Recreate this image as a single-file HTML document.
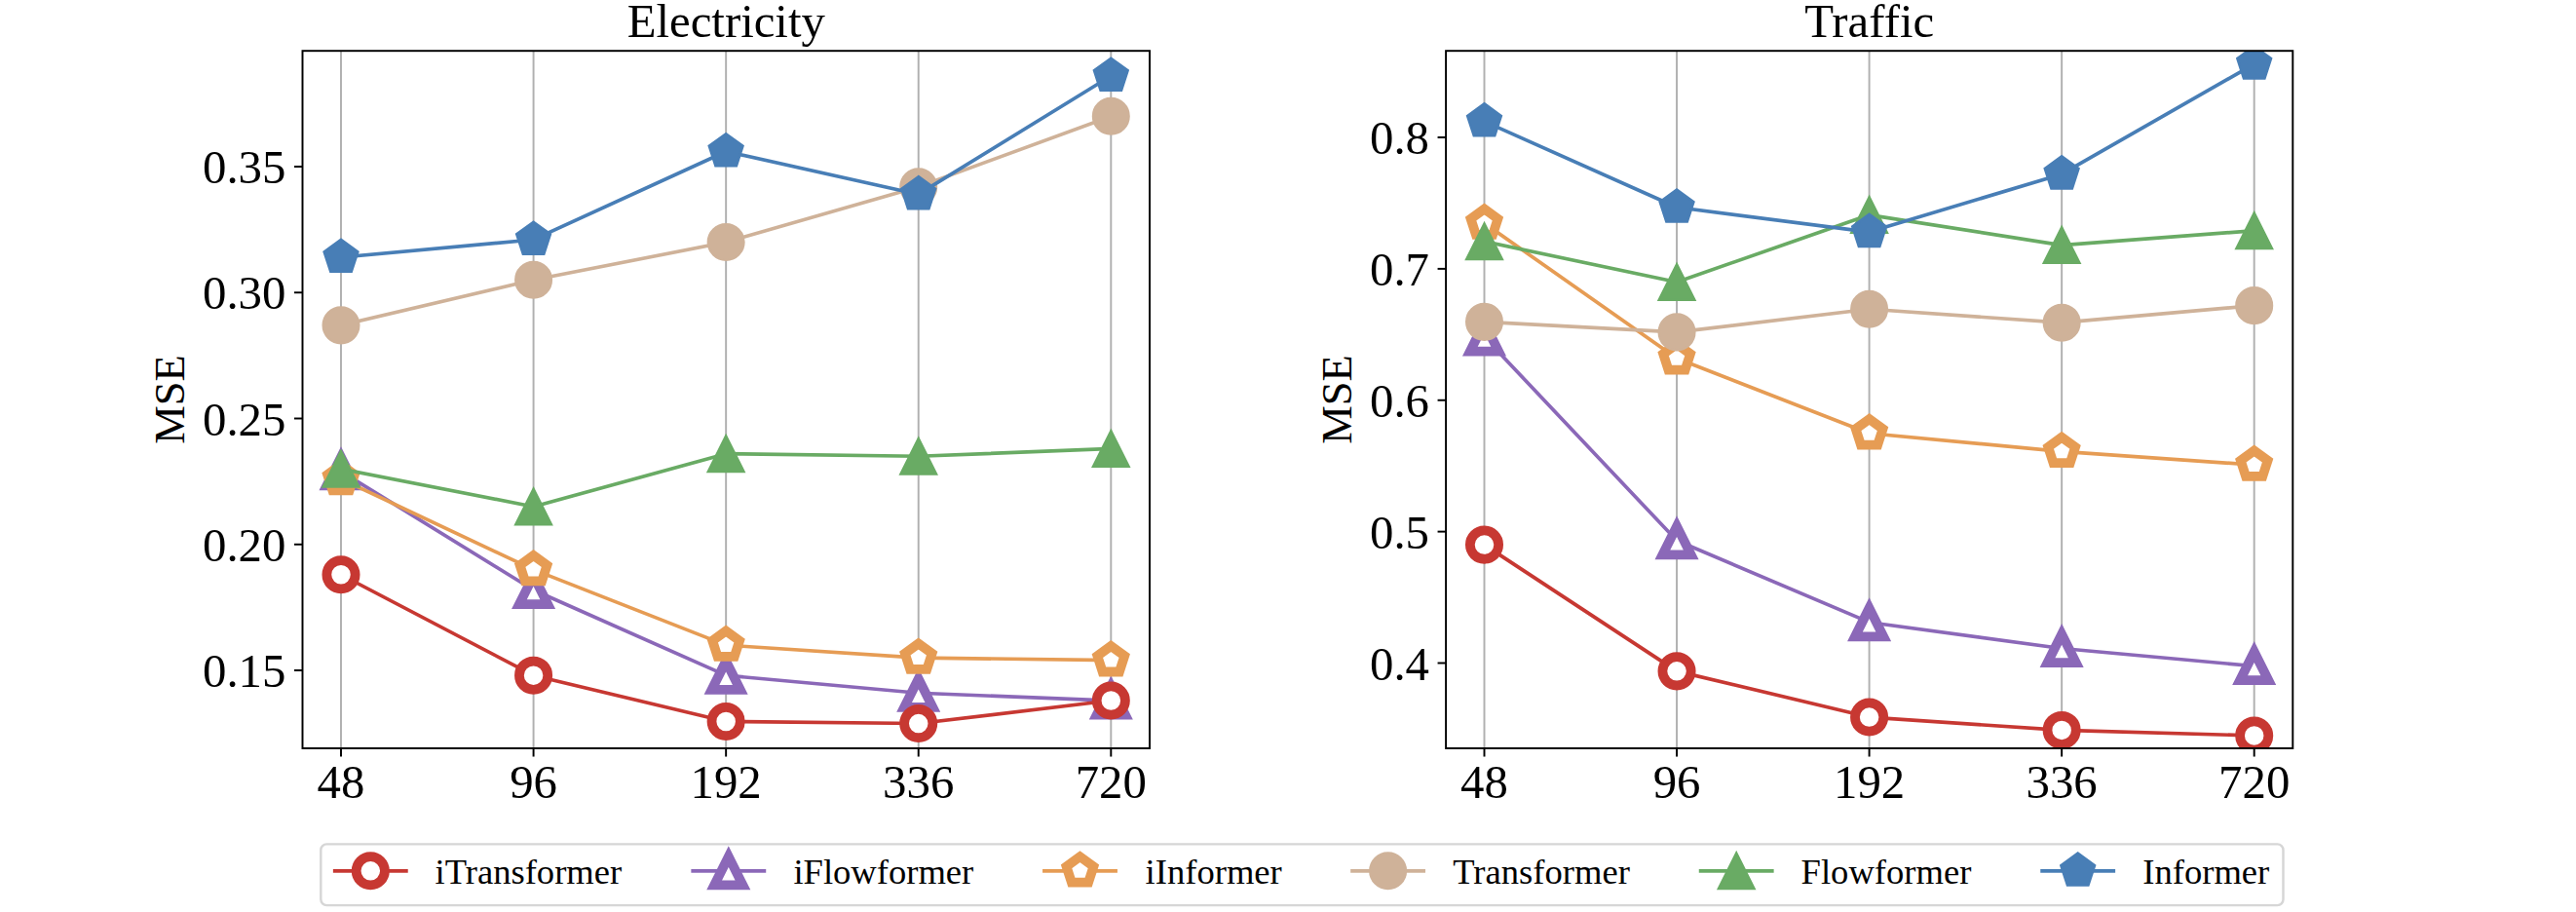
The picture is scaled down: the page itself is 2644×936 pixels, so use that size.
<!DOCTYPE html>
<html lang="en"><head><meta charset="utf-8"><title>MSE vs lookback length</title>
<style>
html,body{margin:0;padding:0;background:#fff;}
body{width:2644px;height:936px;overflow:hidden;}
svg{display:block;}
text{font-family:"Liberation Serif","Times New Roman",Times,serif;fill:#000;font-variant-ligatures:none;font-kerning:normal;}
.t20{font-size:48.8px;}
.t18{font-size:44.5px;}
.t15{font-size:36.6px;}
</style></head><body>
<svg width="2644" height="936" viewBox="0 0 2644 936">
<rect x="0" y="0" width="2644" height="936" fill="#fff"/>
<defs>
<clipPath id="clip0"><rect x="310.5" y="52.2" width="869.5" height="715.8"/></clipPath>
<clipPath id="clip1"><rect x="1484.1" y="52.2" width="869.2" height="715.8"/></clipPath>
</defs>
<g id="axes0">
<g stroke="#b0b0b0" stroke-width="1.95">
<line x1="350" y1="52.2" x2="350" y2="768"/>
<line x1="547.58" y1="52.2" x2="547.58" y2="768"/>
<line x1="745.15" y1="52.2" x2="745.15" y2="768"/>
<line x1="942.72" y1="52.2" x2="942.72" y2="768"/>
<line x1="1140.3" y1="52.2" x2="1140.3" y2="768"/>
</g>
<g stroke="#000" stroke-width="1.95">
<line x1="350" y1="768" x2="350" y2="776.54"/>
<line x1="547.58" y1="768" x2="547.58" y2="776.54"/>
<line x1="745.15" y1="768" x2="745.15" y2="776.54"/>
<line x1="942.72" y1="768" x2="942.72" y2="776.54"/>
<line x1="1140.3" y1="768" x2="1140.3" y2="776.54"/>
<line x1="301.96" y1="688" x2="310.5" y2="688"/>
<line x1="301.96" y1="558.75" x2="310.5" y2="558.75"/>
<line x1="301.96" y1="429.5" x2="310.5" y2="429.5"/>
<line x1="301.96" y1="300.25" x2="310.5" y2="300.25"/>
<line x1="301.96" y1="171" x2="310.5" y2="171"/>
</g>
<g clip-path="url(#clip0)">
<polyline points="350,483.78 547.58,605.54 745.15,693.17 942.72,711.26 1140.3,719.02" fill="none" stroke="#8b68b8" stroke-width="3.66" stroke-linejoin="round" stroke-linecap="square"/>
<polygon points="350,469.14 335.36,498.42 364.64,498.42" fill="#fff" stroke="#8b68b8" stroke-width="9.76" stroke-linejoin="miter" stroke-miterlimit="10"/>
<polygon points="547.58,590.9 532.94,620.18 562.22,620.18" fill="#fff" stroke="#8b68b8" stroke-width="9.76" stroke-linejoin="miter" stroke-miterlimit="10"/>
<polygon points="745.15,678.53 730.51,707.81 759.79,707.81" fill="#fff" stroke="#8b68b8" stroke-width="9.76" stroke-linejoin="miter" stroke-miterlimit="10"/>
<polygon points="942.72,696.62 928.08,725.9 957.36,725.9" fill="#fff" stroke="#8b68b8" stroke-width="9.76" stroke-linejoin="miter" stroke-miterlimit="10"/>
<polygon points="1140.3,704.38 1125.66,733.66 1154.94,733.66" fill="#fff" stroke="#8b68b8" stroke-width="9.76" stroke-linejoin="miter" stroke-miterlimit="10"/>
<polyline points="350,491.54 547.58,584.6 745.15,662.15 942.72,675.08 1140.3,677.66" fill="none" stroke="#e69c54" stroke-width="3.66" stroke-linejoin="round" stroke-linecap="square"/>
<polygon points="350,476.9 336.08,487.02 341.39,503.38 358.61,503.38 363.92,487.02" fill="#fff" stroke="#e69c54" stroke-width="9.76" stroke-linejoin="miter" stroke-miterlimit="10"/>
<polygon points="547.58,569.96 533.65,580.08 538.97,596.44 556.18,596.44 561.5,580.08" fill="#fff" stroke="#e69c54" stroke-width="9.76" stroke-linejoin="miter" stroke-miterlimit="10"/>
<polygon points="745.15,647.51 731.23,657.63 736.54,673.99 753.76,673.99 759.07,657.63" fill="#fff" stroke="#e69c54" stroke-width="9.76" stroke-linejoin="miter" stroke-miterlimit="10"/>
<polygon points="942.72,660.44 928.8,670.55 934.12,686.92 951.33,686.92 956.65,670.55" fill="#fff" stroke="#e69c54" stroke-width="9.76" stroke-linejoin="miter" stroke-miterlimit="10"/>
<polygon points="1140.3,663.02 1126.38,673.14 1131.69,689.5 1148.91,689.5 1154.22,673.14" fill="#fff" stroke="#e69c54" stroke-width="9.76" stroke-linejoin="miter" stroke-miterlimit="10"/>
<polyline points="350,333.86 547.58,287.32 745.15,248.55 942.72,191.68 1140.3,119.3" fill="none" stroke="#cfb299" stroke-width="3.66" stroke-linejoin="round" stroke-linecap="square"/>
<circle cx="350" cy="333.86" r="18.3" fill="#cfb299" stroke="#cfb299" stroke-width="2.44" stroke-linejoin="miter" stroke-miterlimit="10"/>
<circle cx="547.58" cy="287.32" r="18.3" fill="#cfb299" stroke="#cfb299" stroke-width="2.44" stroke-linejoin="miter" stroke-miterlimit="10"/>
<circle cx="745.15" cy="248.55" r="18.3" fill="#cfb299" stroke="#cfb299" stroke-width="2.44" stroke-linejoin="miter" stroke-miterlimit="10"/>
<circle cx="942.72" cy="191.68" r="18.3" fill="#cfb299" stroke="#cfb299" stroke-width="2.44" stroke-linejoin="miter" stroke-miterlimit="10"/>
<circle cx="1140.3" cy="119.3" r="18.3" fill="#cfb299" stroke="#cfb299" stroke-width="2.44" stroke-linejoin="miter" stroke-miterlimit="10"/>
<polyline points="350,481.2 547.58,519.98 745.15,465.69 942.72,468.28 1140.3,460.52" fill="none" stroke="#69ab64" stroke-width="3.66" stroke-linejoin="round" stroke-linecap="square"/>
<polygon points="350,462.9 331.7,499.5 368.3,499.5" fill="#69ab64" stroke="#69ab64" stroke-width="2.44" stroke-linejoin="miter" stroke-miterlimit="10"/>
<polygon points="547.58,501.68 529.28,538.27 565.88,538.27" fill="#69ab64" stroke="#69ab64" stroke-width="2.44" stroke-linejoin="miter" stroke-miterlimit="10"/>
<polygon points="745.15,447.39 726.85,483.99 763.45,483.99" fill="#69ab64" stroke="#69ab64" stroke-width="2.44" stroke-linejoin="miter" stroke-miterlimit="10"/>
<polygon points="942.72,449.98 924.42,486.58 961.02,486.58" fill="#69ab64" stroke="#69ab64" stroke-width="2.44" stroke-linejoin="miter" stroke-miterlimit="10"/>
<polygon points="1140.3,442.22 1122,478.82 1158.6,478.82" fill="#69ab64" stroke="#69ab64" stroke-width="2.44" stroke-linejoin="miter" stroke-miterlimit="10"/>
<polyline points="350,264.06 547.58,245.96 745.15,155.49 942.72,199.43 1140.3,77.94" fill="none" stroke="#487eb6" stroke-width="3.66" stroke-linejoin="round" stroke-linecap="square"/>
<polygon points="350,245.76 332.6,258.4 339.24,278.87 360.76,278.87 367.4,258.4" fill="#487eb6" stroke="#487eb6" stroke-width="2.44" stroke-linejoin="miter" stroke-miterlimit="10"/>
<polygon points="547.58,227.66 530.17,240.31 536.82,260.77 558.33,260.77 564.98,240.31" fill="#487eb6" stroke="#487eb6" stroke-width="2.44" stroke-linejoin="miter" stroke-miterlimit="10"/>
<polygon points="745.15,137.19 727.75,149.83 734.39,170.3 755.91,170.3 762.55,149.83" fill="#487eb6" stroke="#487eb6" stroke-width="2.44" stroke-linejoin="miter" stroke-miterlimit="10"/>
<polygon points="942.72,181.13 925.32,193.78 931.97,214.24 953.48,214.24 960.13,193.78" fill="#487eb6" stroke="#487eb6" stroke-width="2.44" stroke-linejoin="miter" stroke-miterlimit="10"/>
<polygon points="1140.3,59.64 1122.9,72.28 1129.54,92.75 1151.06,92.75 1157.7,72.28" fill="#487eb6" stroke="#487eb6" stroke-width="2.44" stroke-linejoin="miter" stroke-miterlimit="10"/>
<polyline points="350,589.77 547.58,693.17 745.15,740.48 942.72,742.54 1140.3,719.02" fill="none" stroke="#c73832" stroke-width="3.66" stroke-linejoin="round" stroke-linecap="square"/>
<circle cx="350" cy="589.77" r="14.64" fill="#fff" stroke="#c73832" stroke-width="9.76" stroke-linejoin="miter" stroke-miterlimit="10"/>
<circle cx="547.58" cy="693.17" r="14.64" fill="#fff" stroke="#c73832" stroke-width="9.76" stroke-linejoin="miter" stroke-miterlimit="10"/>
<circle cx="745.15" cy="740.48" r="14.64" fill="#fff" stroke="#c73832" stroke-width="9.76" stroke-linejoin="miter" stroke-miterlimit="10"/>
<circle cx="942.72" cy="742.54" r="14.64" fill="#fff" stroke="#c73832" stroke-width="9.76" stroke-linejoin="miter" stroke-miterlimit="10"/>
<circle cx="1140.3" cy="719.02" r="14.64" fill="#fff" stroke="#c73832" stroke-width="9.76" stroke-linejoin="miter" stroke-miterlimit="10"/>
</g>
<rect x="310.5" y="52.2" width="869.5" height="715.8" fill="none" stroke="#000" stroke-width="1.95" stroke-linejoin="miter"/>
<text class="t20" x="745.25" y="37.8" text-anchor="middle">Electricity</text>
<text class="t20" x="350" y="819.2" text-anchor="middle">48</text>
<text class="t20" x="547.58" y="819.2" text-anchor="middle">96</text>
<text class="t20" x="745.15" y="819.2" text-anchor="middle">192</text>
<text class="t20" x="942.72" y="819.2" text-anchor="middle">336</text>
<text class="t20" x="1140.3" y="819.2" text-anchor="middle">720</text>
<text class="t20" x="293.4" y="705.1" text-anchor="end">0.15</text>
<text class="t20" x="293.4" y="575.85" text-anchor="end">0.20</text>
<text class="t20" x="293.4" y="446.6" text-anchor="end">0.25</text>
<text class="t20" x="293.4" y="317.35" text-anchor="end">0.30</text>
<text class="t20" x="293.4" y="188.1" text-anchor="end">0.35</text>
<text class="t18" transform="translate(189.2 410.1) rotate(-90)" text-anchor="middle">MSE</text>
</g>
<g id="axes1">
<g stroke="#b0b0b0" stroke-width="1.95">
<line x1="1523.5" y1="52.2" x2="1523.5" y2="768"/>
<line x1="1721.05" y1="52.2" x2="1721.05" y2="768"/>
<line x1="1918.6" y1="52.2" x2="1918.6" y2="768"/>
<line x1="2116.15" y1="52.2" x2="2116.15" y2="768"/>
<line x1="2313.7" y1="52.2" x2="2313.7" y2="768"/>
</g>
<g stroke="#000" stroke-width="1.95">
<line x1="1523.5" y1="768" x2="1523.5" y2="776.54"/>
<line x1="1721.05" y1="768" x2="1721.05" y2="776.54"/>
<line x1="1918.6" y1="768" x2="1918.6" y2="776.54"/>
<line x1="2116.15" y1="768" x2="2116.15" y2="776.54"/>
<line x1="2313.7" y1="768" x2="2313.7" y2="776.54"/>
<line x1="1475.56" y1="680.5" x2="1484.1" y2="680.5"/>
<line x1="1475.56" y1="545.62" x2="1484.1" y2="545.62"/>
<line x1="1475.56" y1="410.75" x2="1484.1" y2="410.75"/>
<line x1="1475.56" y1="275.88" x2="1484.1" y2="275.88"/>
<line x1="1475.56" y1="141" x2="1484.1" y2="141"/>
</g>
<g clip-path="url(#clip1)">
<polyline points="1523.5,345.88 1721.05,554.8 1918.6,638.69 2116.15,665.53 2313.7,683.6" fill="none" stroke="#8b68b8" stroke-width="3.66" stroke-linejoin="round" stroke-linecap="square"/>
<polygon points="1523.5,331.24 1508.86,360.52 1538.14,360.52" fill="#fff" stroke="#8b68b8" stroke-width="9.76" stroke-linejoin="miter" stroke-miterlimit="10"/>
<polygon points="1721.05,540.16 1706.41,569.44 1735.69,569.44" fill="#fff" stroke="#8b68b8" stroke-width="9.76" stroke-linejoin="miter" stroke-miterlimit="10"/>
<polygon points="1918.6,624.05 1903.96,653.33 1933.24,653.33" fill="#fff" stroke="#8b68b8" stroke-width="9.76" stroke-linejoin="miter" stroke-miterlimit="10"/>
<polygon points="2116.15,650.89 2101.51,680.17 2130.79,680.17" fill="#fff" stroke="#8b68b8" stroke-width="9.76" stroke-linejoin="miter" stroke-miterlimit="10"/>
<polygon points="2313.7,668.96 2299.06,698.24 2328.34,698.24" fill="#fff" stroke="#8b68b8" stroke-width="9.76" stroke-linejoin="miter" stroke-miterlimit="10"/>
<polyline points="1523.5,229.07 1721.05,367.72 1918.6,444.74 2116.15,463.35 2313.7,477.11" fill="none" stroke="#e69c54" stroke-width="3.66" stroke-linejoin="round" stroke-linecap="square"/>
<polygon points="1523.5,214.43 1509.58,224.55 1514.89,240.92 1532.11,240.92 1537.42,224.55" fill="#fff" stroke="#e69c54" stroke-width="9.76" stroke-linejoin="miter" stroke-miterlimit="10"/>
<polygon points="1721.05,353.08 1707.13,363.2 1712.44,379.57 1729.66,379.57 1734.97,363.2" fill="#fff" stroke="#e69c54" stroke-width="9.76" stroke-linejoin="miter" stroke-miterlimit="10"/>
<polygon points="1918.6,430.1 1904.68,440.21 1909.99,456.58 1927.21,456.58 1932.52,440.21" fill="#fff" stroke="#e69c54" stroke-width="9.76" stroke-linejoin="miter" stroke-miterlimit="10"/>
<polygon points="2116.15,448.71 2102.23,458.83 2107.54,475.2 2124.76,475.2 2130.07,458.83" fill="#fff" stroke="#e69c54" stroke-width="9.76" stroke-linejoin="miter" stroke-miterlimit="10"/>
<polygon points="2313.7,462.47 2299.78,472.58 2305.09,488.95 2322.31,488.95 2327.62,472.58" fill="#fff" stroke="#e69c54" stroke-width="9.76" stroke-linejoin="miter" stroke-miterlimit="10"/>
<polyline points="1523.5,330.36 1721.05,340.88 1918.6,317.28 2116.15,331.17 2313.7,313.64" fill="none" stroke="#cfb299" stroke-width="3.66" stroke-linejoin="round" stroke-linecap="square"/>
<circle cx="1523.5" cy="330.36" r="18.3" fill="#cfb299" stroke="#cfb299" stroke-width="2.44" stroke-linejoin="miter" stroke-miterlimit="10"/>
<circle cx="1721.05" cy="340.88" r="18.3" fill="#cfb299" stroke="#cfb299" stroke-width="2.44" stroke-linejoin="miter" stroke-miterlimit="10"/>
<circle cx="1918.6" cy="317.28" r="18.3" fill="#cfb299" stroke="#cfb299" stroke-width="2.44" stroke-linejoin="miter" stroke-miterlimit="10"/>
<circle cx="2116.15" cy="331.17" r="18.3" fill="#cfb299" stroke="#cfb299" stroke-width="2.44" stroke-linejoin="miter" stroke-miterlimit="10"/>
<circle cx="2313.7" cy="313.64" r="18.3" fill="#cfb299" stroke="#cfb299" stroke-width="2.44" stroke-linejoin="miter" stroke-miterlimit="10"/>
<polyline points="1523.5,247.82 1721.05,289.5 1918.6,220.58 2116.15,251.6 2313.7,236.76" fill="none" stroke="#69ab64" stroke-width="3.66" stroke-linejoin="round" stroke-linecap="square"/>
<polygon points="1523.5,229.52 1505.2,266.12 1541.8,266.12" fill="#69ab64" stroke="#69ab64" stroke-width="2.44" stroke-linejoin="miter" stroke-miterlimit="10"/>
<polygon points="1721.05,271.2 1702.75,307.8 1739.35,307.8" fill="#69ab64" stroke="#69ab64" stroke-width="2.44" stroke-linejoin="miter" stroke-miterlimit="10"/>
<polygon points="1918.6,202.28 1900.3,238.88 1936.9,238.88" fill="#69ab64" stroke="#69ab64" stroke-width="2.44" stroke-linejoin="miter" stroke-miterlimit="10"/>
<polygon points="2116.15,233.3 2097.85,269.9 2134.45,269.9" fill="#69ab64" stroke="#69ab64" stroke-width="2.44" stroke-linejoin="miter" stroke-miterlimit="10"/>
<polygon points="2313.7,218.46 2295.4,255.06 2332,255.06" fill="#69ab64" stroke="#69ab64" stroke-width="2.44" stroke-linejoin="miter" stroke-miterlimit="10"/>
<polyline points="1523.5,124.55 1721.05,212.75 1918.6,238.11 2116.15,178.63 2313.7,65.74" fill="none" stroke="#487eb6" stroke-width="3.66" stroke-linejoin="round" stroke-linecap="square"/>
<polygon points="1523.5,106.25 1506.1,118.89 1512.74,139.35 1534.26,139.35 1540.9,118.89" fill="#487eb6" stroke="#487eb6" stroke-width="2.44" stroke-linejoin="miter" stroke-miterlimit="10"/>
<polygon points="1721.05,194.45 1703.65,207.1 1710.29,227.56 1731.81,227.56 1738.45,207.1" fill="#487eb6" stroke="#487eb6" stroke-width="2.44" stroke-linejoin="miter" stroke-miterlimit="10"/>
<polygon points="1918.6,219.81 1901.2,232.45 1907.84,252.92 1929.36,252.92 1936,232.45" fill="#487eb6" stroke="#487eb6" stroke-width="2.44" stroke-linejoin="miter" stroke-miterlimit="10"/>
<polygon points="2116.15,160.33 2098.75,172.98 2105.39,193.44 2126.91,193.44 2133.55,172.98" fill="#487eb6" stroke="#487eb6" stroke-width="2.44" stroke-linejoin="miter" stroke-miterlimit="10"/>
<polygon points="2313.7,47.44 2296.3,60.08 2302.94,80.54 2324.46,80.54 2331.1,60.08" fill="#487eb6" stroke="#487eb6" stroke-width="2.44" stroke-linejoin="miter" stroke-miterlimit="10"/>
<polyline points="1523.5,559.11 1721.05,688.86 1918.6,736.07 2116.15,749.42 2313.7,754.95" fill="none" stroke="#c73832" stroke-width="3.66" stroke-linejoin="round" stroke-linecap="square"/>
<circle cx="1523.5" cy="559.11" r="14.64" fill="#fff" stroke="#c73832" stroke-width="9.76" stroke-linejoin="miter" stroke-miterlimit="10"/>
<circle cx="1721.05" cy="688.86" r="14.64" fill="#fff" stroke="#c73832" stroke-width="9.76" stroke-linejoin="miter" stroke-miterlimit="10"/>
<circle cx="1918.6" cy="736.07" r="14.64" fill="#fff" stroke="#c73832" stroke-width="9.76" stroke-linejoin="miter" stroke-miterlimit="10"/>
<circle cx="2116.15" cy="749.42" r="14.64" fill="#fff" stroke="#c73832" stroke-width="9.76" stroke-linejoin="miter" stroke-miterlimit="10"/>
<circle cx="2313.7" cy="754.95" r="14.64" fill="#fff" stroke="#c73832" stroke-width="9.76" stroke-linejoin="miter" stroke-miterlimit="10"/>
</g>
<rect x="1484.1" y="52.2" width="869.2" height="715.8" fill="none" stroke="#000" stroke-width="1.95" stroke-linejoin="miter"/>
<text class="t20" x="1918.7" y="37.8" text-anchor="middle">Traffic</text>
<text class="t20" x="1523.5" y="819.2" text-anchor="middle">48</text>
<text class="t20" x="1721.05" y="819.2" text-anchor="middle">96</text>
<text class="t20" x="1918.6" y="819.2" text-anchor="middle">192</text>
<text class="t20" x="2116.15" y="819.2" text-anchor="middle">336</text>
<text class="t20" x="2313.7" y="819.2" text-anchor="middle">720</text>
<text class="t20" x="1467" y="697.6" text-anchor="end">0.4</text>
<text class="t20" x="1467" y="562.73" text-anchor="end">0.5</text>
<text class="t20" x="1467" y="427.85" text-anchor="end">0.6</text>
<text class="t20" x="1467" y="292.98" text-anchor="end">0.7</text>
<text class="t20" x="1467" y="158.1" text-anchor="end">0.8</text>
<text class="t18" transform="translate(1387.2 410.1) rotate(-90)" text-anchor="middle">MSE</text>
</g>
<g id="legend">
<rect x="329.3" y="866.4" width="2014.2" height="62.7" rx="6" ry="6" fill="#fff" fill-opacity="0.8" stroke="#d6d6d6" stroke-width="2.44"/>
<line x1="343.7" y1="893.8" x2="416.9" y2="893.8" stroke="#c73832" stroke-width="3.66" stroke-linecap="square"/>
<circle cx="380.3" cy="893.8" r="14.64" fill="#fff" stroke="#c73832" stroke-width="9.76" stroke-linejoin="miter" stroke-miterlimit="10"/>
<text class="t15" x="446.5" y="906.6">iTransformer</text>
<line x1="711.2" y1="893.8" x2="784.4" y2="893.8" stroke="#8b68b8" stroke-width="3.66" stroke-linecap="square"/>
<polygon points="747.8,879.16 733.16,908.44 762.44,908.44" fill="#fff" stroke="#8b68b8" stroke-width="9.76" stroke-linejoin="miter" stroke-miterlimit="10"/>
<text class="t15" x="814.4" y="906.6">iFlowformer</text>
<line x1="1071.9" y1="893.8" x2="1145.1" y2="893.8" stroke="#e69c54" stroke-width="3.66" stroke-linecap="square"/>
<polygon points="1108.5,879.16 1094.58,889.28 1099.89,905.64 1117.11,905.64 1122.42,889.28" fill="#fff" stroke="#e69c54" stroke-width="9.76" stroke-linejoin="miter" stroke-miterlimit="10"/>
<text class="t15" x="1175.6" y="906.6">iInformer</text>
<line x1="1388" y1="893.8" x2="1461.2" y2="893.8" stroke="#cfb299" stroke-width="3.66" stroke-linecap="square"/>
<circle cx="1424.6" cy="893.8" r="18.3" fill="#cfb299" stroke="#cfb299" stroke-width="2.44" stroke-linejoin="miter" stroke-miterlimit="10"/>
<text class="t15" x="1491.3" y="906.6">Transformer</text>
<line x1="1745.6" y1="893.8" x2="1818.8" y2="893.8" stroke="#69ab64" stroke-width="3.66" stroke-linecap="square"/>
<polygon points="1782.2,875.5 1763.9,912.1 1800.5,912.1" fill="#69ab64" stroke="#69ab64" stroke-width="2.44" stroke-linejoin="miter" stroke-miterlimit="10"/>
<text class="t15" x="1848.6" y="906.6">Flowformer</text>
<line x1="2096.1" y1="893.8" x2="2169.3" y2="893.8" stroke="#487eb6" stroke-width="3.66" stroke-linecap="square"/>
<polygon points="2132.7,875.5 2115.3,888.14 2121.94,908.61 2143.46,908.61 2150.1,888.14" fill="#487eb6" stroke="#487eb6" stroke-width="2.44" stroke-linejoin="miter" stroke-miterlimit="10"/>
<text class="t15" x="2199.3" y="906.6">Informer</text>
</g>
</svg>
</body></html>
